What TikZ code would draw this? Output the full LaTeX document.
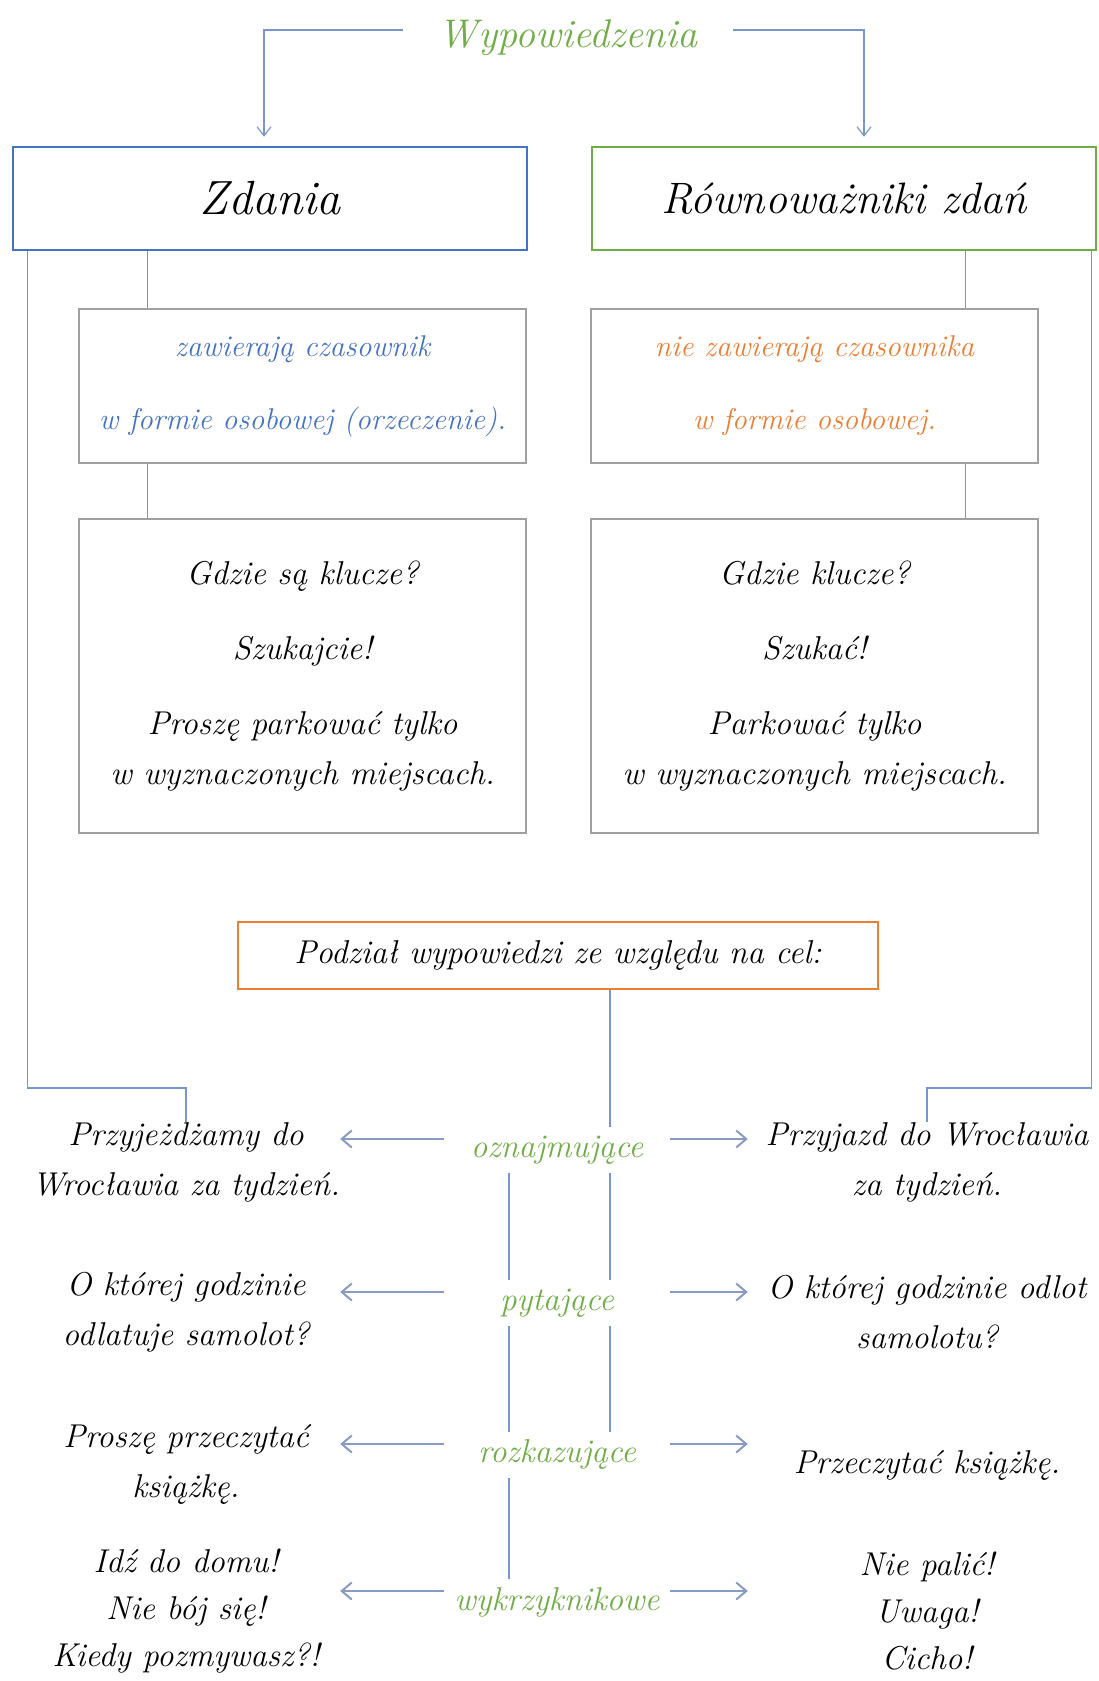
\documentclass[tikz,border=0pt]{standalone}
\usepackage{fontspec}
\usetikzlibrary{arrows.meta,backgrounds}
\definecolor{cblue}{RGB}{68,114,196}
\definecolor{cgreen}{RGB}{112,173,71}
\definecolor{corange}{RGB}{237,125,49}
\definecolor{cgray}{RGB}{160,160,160}
\definecolor{cline}{RGB}{120,150,205}
\definecolor{carrow}{RGB}{135,155,195}
\begin{document}
\begin{tikzpicture}[x=1pt,y=-1pt,
  txt/.style={font=\fontsize{33}{50}\selectfont\itshape, align=center, inner sep=0pt},
  smalltxt/.style={font=\fontsize{30}{50}\selectfont\itshape},
  bigtxt/.style={font=\fontsize{44}{50}\selectfont\itshape},
  lbl/.style={font=\fontsize{33}{38}\selectfont\itshape, text=cgreen, fill=white, minimum width=225pt, minimum height=46pt, inner sep=0pt},
  graybox/.style={txt, draw=cgray, line width=2.5pt, minimum width=447pt},
  conn/.style={draw=cline, line width=1.2pt},
  arr/.style={draw=carrow, line width=2pt, -{Straight Barb[length=10pt,width=17pt]}},
  tarr/.style={draw=cline, line width=1.2pt, -{Straight Barb[length=9pt,width=14pt]}, shorten >=9pt},
]
\useasboundingbox (0,0) rectangle (1099,1681);

% title and main boxes
\node[font=\fontsize{40}{44}\selectfont\itshape, text=cgreen, inner xsep=36pt] (wyp) at (568,38) {Wypowiedzenia};
\node[bigtxt, font=\fontsize{48}{50}\selectfont\itshape, draw=cblue, line width=2.5pt, minimum width=514pt, minimum height=103pt] (zd) at (270,198.5) {Zdania};
\node[bigtxt, draw=cgreen, line width=2.5pt, minimum width=504pt, minimum height=103pt] (rz) at (844,198.5) {Równoważniki zdań};

% gray boxes
\node[graybox, smalltxt, minimum height=154pt, text=cblue] (g1) at (302.5,386) {zawierają czasownik\\[23pt]w formie osobowej (orzeczenie).};
\node[graybox, smalltxt, minimum height=154pt, text=corange] (g2) at (814.5,386) {nie zawierają czasownika\\[23pt]w formie osobowej.};
\node[graybox, minimum height=314pt] (g3) at (302.5,676) {Gdzie są klucze?\\[25pt]Szukajcie!\\[25pt]Proszę parkować tylko\\w wyznaczonych miejscach.};
\node[graybox, minimum height=314pt] (g4) at (814.5,676) {Gdzie klucze?\\[25pt]Szukać!\\[25pt]Parkować tylko\\w wyznaczonych miejscach.};

% purpose box
\node[txt, draw=corange, line width=2.5pt, minimum width=640pt, minimum height=67pt] (pod) at (558,955.5) {Podział wypowiedzi ze względu na cel:};

% center labels
\node[lbl] (ozn) at (557,1150) {oznajmujące};
\node[lbl] (pyt) at (557,1303) {pytające};
\node[lbl] (roz) at (557,1455) {rozkazujące};
\node[lbl] (wyk) at (557,1602) {wykrzyknikowe};

% left examples
\node[txt, minimum width=308pt] (l1) at (186,1162) {Przyjeżdżamy do\\Wrocławia za tydzień.};
\node[txt, minimum width=308pt] (l2) at (186,1312) {O której godzinie\\odlatuje samolot?};
\node[txt, minimum width=308pt] (l3) at (186,1464) {Proszę przeczytać\\książkę.};
\node[txt, minimum width=308pt, font=\fontsize{33}{47}\selectfont\itshape] (l4) at (186,1611) {Idź do domu!\\Nie bój się!\\Kiedy pozmywasz?!};

% right examples
\node[txt, minimum width=358pt] (r1) at (927,1162) {Przyjazd do Wrocławia\\za tydzień.};
\node[txt, minimum width=358pt] (r2) at (927,1312) {O której godzinie odlot\\samolotu?};
\node[txt, minimum width=358pt] (r3) at (927,1465) {Przeczytać książkę.};
\node[txt, minimum width=358pt, font=\fontsize{33}{47}\selectfont\itshape] (r4) at (927,1611) {Nie palić!\\Uwaga!\\Cicho!};

% top arrows
\draw[tarr] ([yshift=8pt]wyp.west) -| ([xshift=-6pt]zd.north);
\draw[tarr] ([yshift=8pt]wyp.east) -| ([xshift=20pt]rz.north);

% side arrows
\foreach \c/\l/\r in {ozn/l1/r1, pyt/l2/r2, roz/l3/r3, wyk/l4/r4}{
  \draw[arr] ([yshift=11pt]\c.west) -- ([yshift=11pt]\c.west -| \l.east);
  \draw[arr] ([yshift=11pt]\c.east) -- ([yshift=11pt]\c.east -| \r.west);
}

\begin{scope}[on background layer]
\fill[white] (0,0) rectangle (1099,1681);
% long side lines
\draw[conn] ([xshift=16pt]zd.south west) |- ([yshift=34pt]l1.north) -- (l1.north);
\draw[conn] ([xshift=-6pt]rz.south east) |- ([yshift=34pt]r1.north) -- (r1.north);
% box connectors
\draw[conn] ([xshift=70pt]g1.north west) -- ([xshift=70pt]g1.north west |- zd.south);
\draw[conn] ([xshift=70pt]g1.south west) -- ([xshift=70pt]g3.north west);
\draw[conn] ([xshift=-74pt]g2.north east) -- ([xshift=-74pt]g2.north east |- rz.south);
\draw[conn] ([xshift=-74pt]g2.south east) -- ([xshift=-74pt]g4.north east);
% central lines
\draw[conn] ([xshift=52pt]pod.south) -- ([xshift=52pt]pod.south |- ozn.north);
\draw[conn] ([xshift=-48pt]ozn.south) -- ([xshift=-48pt]ozn.south |- wyk.north);
\draw[conn] ([xshift=53pt]ozn.south) -- ([xshift=53pt]ozn.south |- roz.north);
\end{scope}
\end{tikzpicture}
\end{document}
